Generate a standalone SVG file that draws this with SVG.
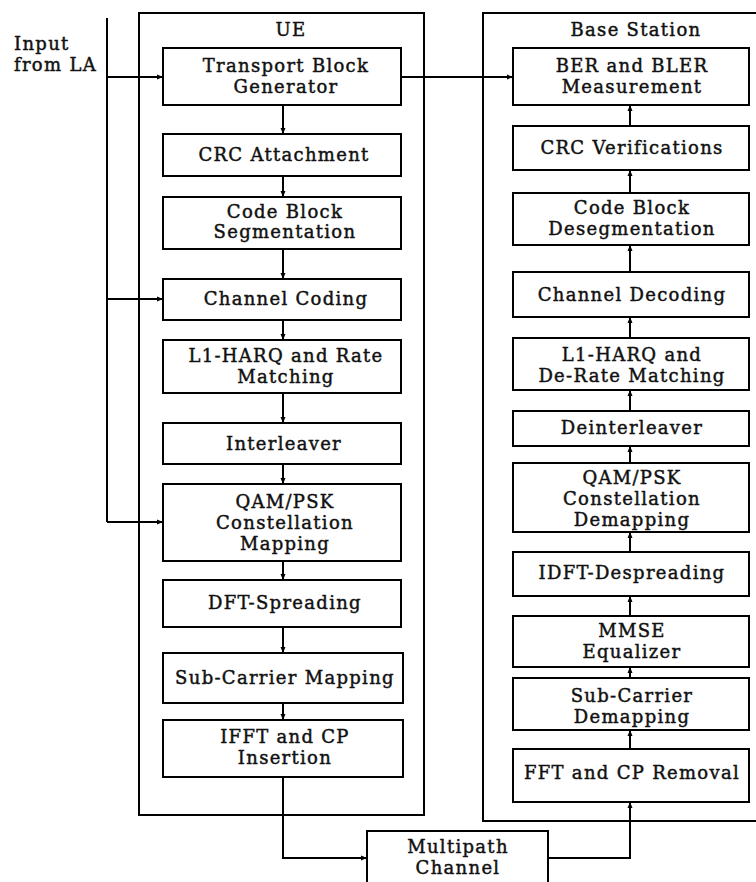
<svg xmlns="http://www.w3.org/2000/svg" width="756" height="882" viewBox="0 0 756 882">
<defs>
<marker id="ah" markerWidth="6" markerHeight="6" refX="5" refY="3" orient="auto" markerUnits="userSpaceOnUse">
<path d="M0,0.5 L6,3 L0,5.5 Z" fill="#000"/>
</marker>
<style>
.box{fill:#fff;stroke:#000;stroke-width:2}
.frame{fill:none;stroke:#000;stroke-width:2}
.t{font-family:"DejaVu Serif","Liberation Serif",serif;font-size:18px;letter-spacing:1.3px;fill:#111;stroke:#111;stroke-width:0.45;text-anchor:middle}
.tl{font-family:"DejaVu Serif","Liberation Serif",serif;font-size:18px;letter-spacing:1.3px;fill:#111;stroke:#111;stroke-width:0.45}
.c{fill:none;stroke:#000;stroke-width:2}
.ca{fill:none;stroke:#000;stroke-width:2;marker-end:url(#ah)}
</style>
</defs>
<rect width="756" height="882" fill="#fff"/>

<g id="ue-frame">
<rect class="frame" x="139" y="13" width="285" height="802"/>
<text class="t" x="291" y="36">UE</text>
</g>
<g id="bs-frame">
<rect class="frame" x="483" y="13" width="290" height="808"/>
<text class="t" x="636" y="36">Base Station</text>
</g>
<g id="input-label">
<text class="tl" x="14" y="50">Input</text>
<text class="tl" x="14" y="71">from LA</text>
</g>

<g id="connectors">
<path class="c" d="M107,18 V522"/>
<path class="ca" d="M107,77 H162"/>
<path class="ca" d="M107,299 H162"/>
<path class="ca" d="M107,522 H162"/>
<path class="ca" d="M401,77 H512"/>
<path class="c" d="M232,81 V105"/>
<path class="ca" d="M283,105 V133"/>
<path class="ca" d="M283,176 V196"/>
<path class="ca" d="M283,249 V278"/>
<path class="ca" d="M283,320 V339"/>
<path class="ca" d="M283,393 V422"/>
<path class="ca" d="M283,464 V483"/>
<path class="ca" d="M283,561 V579"/>
<path class="ca" d="M283,627 V652"/>
<path class="ca" d="M283,703 V719"/>
<path class="ca" d="M283,777 V858 H366"/>
<path class="ca" d="M548,858 H630 V803"/>
<path class="ca" d="M630,749 V731"/>
<path class="ca" d="M630,678 V668"/>
<path class="ca" d="M630,616 V597"/>
<path class="ca" d="M630,552 V533"/>
<path class="ca" d="M630,463 V447"/>
<path class="ca" d="M630,411 V391"/>
<path class="ca" d="M630,338 V318"/>
<path class="ca" d="M630,272 V246"/>
<path class="ca" d="M630,193 V171"/>
<path class="ca" d="M630,126 V106"/>
</g>

<g id="tbg"><rect class="box" x="163" y="48" width="238" height="57"/><text class="t" x="286" y="72">Transport Block</text><text class="t" x="286" y="93">Generator</text></g>
<g id="crc-att"><rect class="box" x="163" y="134" width="238" height="42"/><text class="t" x="284" y="161">CRC Attachment</text></g>
<g id="cbs"><rect class="box" x="163" y="197" width="238" height="52"/><text class="t" x="285" y="218">Code Block</text><text class="t" x="285" y="238">Segmentation</text></g>
<g id="chcod"><rect class="box" x="163" y="279" width="238" height="41"/><text class="t" x="286" y="305">Channel Coding</text></g>
<g id="harq"><rect class="box" x="163" y="340" width="238" height="53"/><text class="t" x="286" y="362">L1-HARQ and Rate</text><text class="t" x="286" y="383">Matching</text></g>
<g id="intl"><rect class="box" x="163" y="423" width="238" height="41"/><text class="t" x="284" y="450">Interleaver</text></g>
<g id="qam"><rect class="box" x="163" y="484" width="238" height="77"/><text class="t" x="285" y="508">QAM/PSK</text><text class="t" x="285" y="529">Constellation</text><text class="t" x="285" y="550">Mapping</text></g>
<g id="dft"><rect class="box" x="163" y="580" width="238" height="47"/><text class="t" x="285" y="609">DFT-Spreading</text></g>
<g id="scm"><rect class="box" x="163" y="653" width="240" height="50"/><text class="t" x="285" y="684">Sub-Carrier Mapping</text></g>
<g id="ifft"><rect class="box" x="163" y="720" width="240" height="57"/><text class="t" x="285" y="743">IFFT and CP</text><text class="t" x="285" y="764">Insertion</text></g>

<g id="ber"><rect class="box" x="513" y="48" width="236" height="57"/><text class="t" x="632" y="72">BER and BLER</text><text class="t" x="632" y="93">Measurement</text></g>
<g id="crc-ver"><rect class="box" x="513" y="126" width="236" height="44"/><text class="t" x="632" y="154">CRC Verifications</text></g>
<g id="cbd"><rect class="box" x="513" y="193" width="236" height="52"/><text class="t" x="632" y="214">Code Block</text><text class="t" x="632" y="235">Desegmentation</text></g>
<g id="chdec"><rect class="box" x="513" y="272" width="236" height="45"/><text class="t" x="632" y="301">Channel Decoding</text></g>
<g id="deharq"><rect class="box" x="513" y="338" width="236" height="52"/><text class="t" x="632" y="361">L1-HARQ and</text><text class="t" x="632" y="382">De-Rate Matching</text></g>
<g id="deintl"><rect class="box" x="513" y="411" width="236" height="35"/><text class="t" x="632" y="434">Deinterleaver</text></g>
<g id="qamd"><rect class="box" x="513" y="463" width="236" height="69"/><text class="t" x="632" y="484">QAM/PSK</text><text class="t" x="632" y="505">Constellation</text><text class="t" x="632" y="526">Demapping</text></g>
<g id="idft"><rect class="box" x="513" y="552" width="236" height="44"/><text class="t" x="632" y="579">IDFT-Despreading</text></g>
<g id="mmse"><rect class="box" x="513" y="616" width="236" height="51"/><text class="t" x="632" y="637">MMSE</text><text class="t" x="632" y="658">Equalizer</text></g>
<g id="scd"><rect class="box" x="513" y="678" width="236" height="52"/><text class="t" x="632" y="702">Sub-Carrier</text><text class="t" x="632" y="723">Demapping</text></g>
<g id="fft"><rect class="box" x="513" y="749" width="236" height="53"/><text class="t" x="632" y="779">FFT and CP Removal</text></g>

<g id="multipath"><rect class="box" x="367" y="831" width="181" height="60"/><text class="t" x="458" y="853">Multipath</text><text class="t" x="458" y="874">Channel</text></g>
</svg>
